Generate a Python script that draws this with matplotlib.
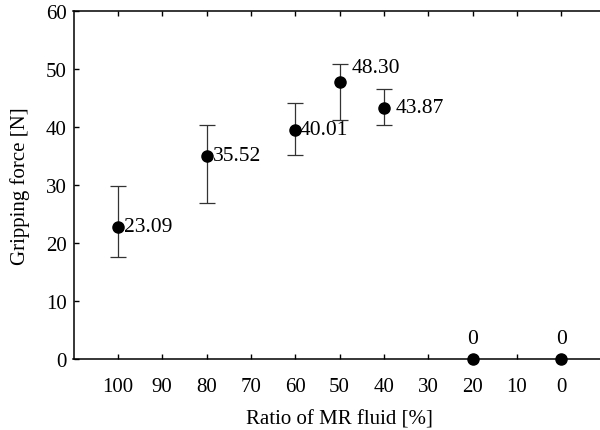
import matplotlib
matplotlib.use("Agg")
import matplotlib.pyplot as plt

plt.rcParams['font.family'] = ['Liberation Serif', 'DejaVu Serif']
plt.rcParams['mathtext.fontset'] = 'stix'

# data
ratio = [100, 80, 60, 50, 40]
force = [22.8, 35.0, 39.5, 47.8, 43.3]
err_low = [17.6, 26.9, 35.2, 41.2, 40.4]
err_high = [29.8, 40.3, 44.2, 50.8, 46.5]
labels = ["23.09", "35.52", "40.01", "48.30", "43.87"]

zero_ratio = [20, 0]
zero_force = [0, 0]
zero_labels = ["0", "0"]

xticks = [100, 90, 80, 70, 60, 50, 40, 30, 20, 10, 0]
yticks = [0, 10, 20, 30, 40, 50, 60]

fig = plt.figure(figsize=(6.0, 4.31), dpi=100)
ax = fig.add_axes([73.5 / 600, 71 / 431, 532 / 600, 348 / 431])

lower = [f - l for f, l in zip(force, err_low)]
upper = [h - f for f, h in zip(force, err_high)]
ax.errorbar(ratio, force, yerr=[lower, upper], fmt='o', color='black',
            ecolor='#333333', elinewidth=0.9, capsize=5.8, capthick=0.9,
            markersize=8, zorder=3)
ax.plot(zero_ratio, zero_force, 'o', color='black', markersize=8, zorder=3,
        clip_on=False)

offsets = [(4.5, 0), (4.5, 0), (3.5, 0), (8.5, 10), (8.5, 0)]
for x, y, t, off in zip(ratio, force, labels, offsets):
    ax.annotate(t, (x, y), xytext=off, textcoords='offset points',
                ha='left', va='center', fontsize=15.5)
for x, y, t in zip(zero_ratio, zero_force, zero_labels):
    ax.annotate(t, (x, y), xytext=(0, 8), textcoords='offset points',
                ha='center', va='bottom', fontsize=15.5)

ax.set_xlim(110, -10)
ax.set_ylim(0, 60)
ax.set_xticks(xticks)
ax.set_xticklabels([str(v) for v in xticks])
ax.set_yticks(yticks)

ax.tick_params(axis='x', direction='in', top=True, length=3.5, width=1,
               labelsize=15, pad=13)
ax.tick_params(axis='y', direction='in', right=False, length=3.5, width=1,
               labelsize=15, pad=5)
for s in ax.spines.values():
    s.set_linewidth(1.1)

ax.set_xlabel('Ratio of MR fluid [%]', fontsize=15, labelpad=10)
ax.set_ylabel('Gripping force [N]', fontsize=15, labelpad=11)

fig.savefig('out.png', dpi=100)
